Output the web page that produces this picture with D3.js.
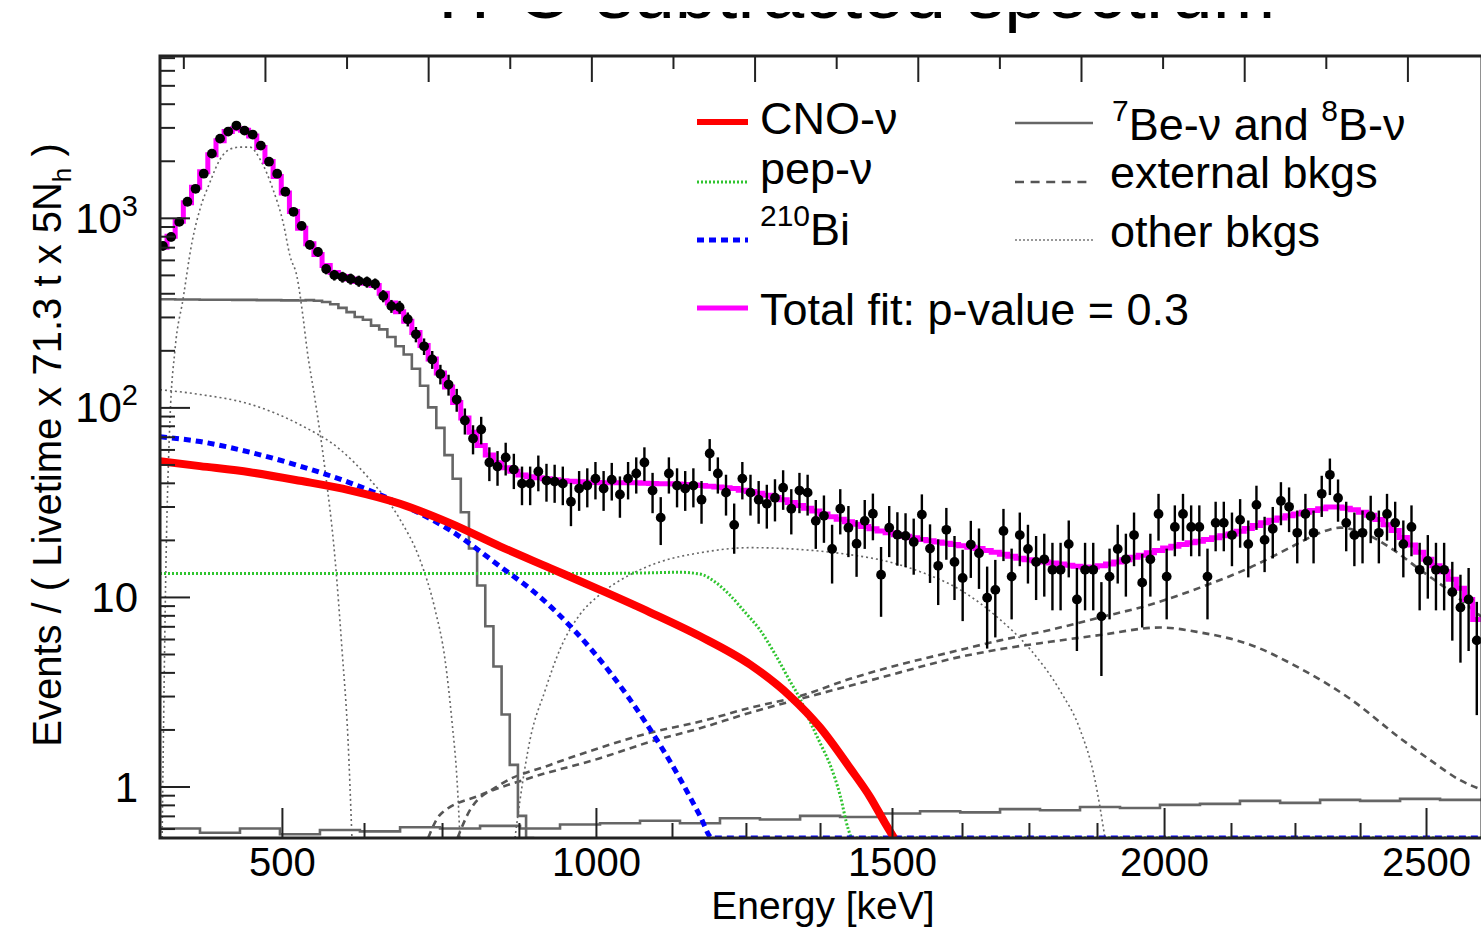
<!DOCTYPE html>
<html><head><meta charset="utf-8">
<script src="https://cdn.jsdelivr.net/npm/d3@7"></script>
<style>html,body{margin:0;padding:0;background:#fff;}svg{display:block;font-family:"Liberation Sans",Arial,Helvetica,sans-serif;}</style>
</head><body><svg id="c" width="1481" height="928"></svg>
<script>
// ---------------- data ----------------
const titleText = "TFC-subtracted spectrum";
const xTitle = "Energy [keV]";
const binLo = 135, binW = 5;           // Nh bins (5 Nh each)
// measured data points, one per bin
const dataCounts = [711,793,952,1216,1423,1710,2181,2618,2851,3068,2885,2749,2404,1978,1710,1373,1076,907,720,661,537,499,487,476,464,459,448,387,342,338,292,243,210,179,150,132,110,85.3,68.5,76.5,51.2,48.7,54.4,47.0,39.6,39.6,45.9,41.1,40.6,39.6,31.8,37.3,38.7,42.1,37.3,41.6,34.7,42.1,44.8,51.2,36.4,26.2,44.8,38.7,37.3,38.7,32.6,57.1,44.8,35.5,24.0,42.1,35.5,32.6,31.0,33.4,37.7,29.2,36.4,35.5,25.2,26.8,17.9,29.2,23.2,19.1,25.2,27.5,13.1,23.2,21.3,21.0,19.5,27.2,18.0,14.6,22.6,15.3,12.6,18.9,17.0,9.9,10.9,22.3,12.8,21.2,17.9,15.3,15.8,13.9,13.9,19.0,9.7,13.9,13.9,7.9,12.8,17.9,15.8,21.2,11.9,15.8,27.4,12.8,23.4,27.4,23.4,23.4,12.8,24.6,24.6,21.2,25.5,19.0,30.6,20.0,22.9,32.1,29.9,21.8,27.4,21.8,35.0,44.1,33.3,24.6,21.2,21.8,26.7,21.8,27.4,24.6,19.0,23.4,13.9,15.5,13.9,13.9,10.6,8.8,9.7,5.9];
const errVar = 2.1; // Poisson-like variance scale of the normalised counts
// total fit, one per bin
const totalFit = [700,800,960,1200,1450,1750,2150,2550,2850,2950,2900,2700,2350,1980,1650,1350,1080,880,730,640,560,515,490,475,462,452,440,400,355,320,285,248,212,180,152,128,106,88,74,63,56,51,48,46,44,43,42.5,42,41.5,41,40.8,40.5,40.3,40.2,40,40,40,40,40,39.8,39.7,39.6,39.5,39.4,39.2,39,38.7,38.4,38,37.7,37.3,36.6,36,35.2,34.4,33.5,32.6,31.5,30.4,29.4,28.4,27.4,26.5,25.7,24.9,24.2,23.5,22.9,22.3,21.8,21.3,20.9,20.5,20.1,19.8,19.5,19.2,18.9,18.6,18.3,18.0,17.6,17.2,16.8,16.4,16.0,15.7,15.5,15.3,15.1,14.9,14.7,14.5,14.4,14.4,14.6,14.9,15.3,15.7,16.2,16.6,17.1,17.6,18.1,18.5,18.9,19.3,19.7,20.1,20.5,21.0,21.5,22.2,23.0,23.8,24.6,25.4,26.1,26.8,27.4,28.0,28.6,29.2,29.8,29.8,29.4,28.8,28.0,27.0,25.6,24.0,22.4,20.6,18.8,17.2,15.8,14.6,13.6,12.4,11.1,9.7,7.6];
// 7Be-nu histogram (bins from first bin)
const be7Hist = [372,372,371,371,371,370,370,370,370,369,369,369,368,368,368,367,367,366,368,365,360,350,335,318,300,290,270,258,235,210,190,160,130,100,78,56,42,28,18,11.5,7,4.3,2.4,1.3,0.7,0.3];
// smooth components: [Nh, value]
const b8Curve = [[135.7,0.60],[160.2,0.57],[184.7,0.60],[209.2,0.56],[233.7,0.59],[258.2,0.58],[282.8,0.61],[307.3,0.60],[331.8,0.62],[356.3,0.60],[380.8,0.63],[405.3,0.64],[429.8,0.66],[454.3,0.64],[478.8,0.68],[503.3,0.67],[527.9,0.70],[552.4,0.69],[576.9,0.72],[601.4,0.74],[626,0.73],[650.4,0.76],[674.9,0.75],[699.4,0.78],[723.9,0.77],[748.4,0.80],[772.9,0.81],[797.4,0.84],[822,0.82],[846.5,0.85],[871,0.84],[895.5,0.86],[920,0.85],[945.7,0.87]];
const cnoCurve = [[135.7,52],[160.2,49],[190.8,45.5],[221.5,41],[252.1,36.5],[282.8,31],[313.4,24.5],[344,18.5],[374.7,14.2],[405.3,10.9],[435.9,8.3],[466.6,6.2],[497.2,4.4],[521.7,3.0],[540.1,2.05],[558.5,1.25],[570.8,0.88],[580,0.64],[585.5,0.5]];
const pepCurve = [[135.7,13.3],[200,13.3],[300,13.3],[400,13.3],[436,13.4],[454.3,13.5],[466.6,13.2],[475.8,12],[485,10.2],[494.2,8.3],[503.3,6.7],[512.5,5.0],[521.7,3.6],[527.9,2.9],[534,2.2],[540.1,1.7],[546.3,1.3],[552.4,0.9],[557.3,0.6],[559.7,0.45],[945.7,0.45]];
const bi210Curve = [[135.7,70],[160.2,66],[190.8,58],[221.5,49],[252.1,40],[282.8,31],[313.4,22.5],[344,14.5],[368.5,10],[390,6.6],[411.4,4.0],[432.9,2.2],[454.3,1.1],[466.6,0.7],[474,0.5],[945.7,0.5]];
const extBkg1 = [[318,0.45],[325.6,0.75],[344,1.02],[374.7,1.30],[405.3,1.60],[435.9,1.92],[466.6,2.2],[497.2,2.6],[527.9,3.0],[558.5,3.7],[589.1,4.4],[619.8,5.1],[650.4,5.9],[681,6.7],[711.7,7.8],[742.3,9.1],[772.9,11.2],[803.6,14.3],[828.1,18.2],[846.5,21.8],[858.7,23.2],[871,22.1],[889.4,18.2],[907.8,13.9],[926.2,10.7],[945.7,7.8]];
const extBkg2 = [[300,0.45],[307.3,0.71],[331.8,0.90],[362.4,1.11],[405.3,1.41],[435.9,1.72],[466.6,2.03],[497.2,2.45],[527.9,2.9],[558.5,3.4],[589.1,4.0],[619.8,4.7],[650.4,5.3],[681,5.8],[711.7,6.3],[748.4,6.9],[772.9,6.5],[803.6,5.6],[834.2,4.2],[864.9,2.9],[895.5,1.80],[913.9,1.38],[932.3,1.08],[945.7,0.96]];
const otherPo210 = [[137,0.5],[139.4,15.7],[141.8,86],[144.9,202],[149.8,372],[155.3,743],[160.2,1110],[166.3,1541],[172.5,2037],[178.6,2301],[184.7,2360],[190.8,2360],[197,2037],[204.9,1416],[211.1,948],[215.4,627],[219.6,491],[223.3,302],[225.8,202],[230.7,110],[236.8,47],[243,15.7],[247.2,5.3],[250.9,1.76],[253.3,0.5]];
const otherKr85 = [[135.7,124],[160.2,117],[190.8,104],[221.5,81],[246,60],[264.4,41.6],[282.8,25.6],[295,15.7],[304.2,8.6],[310.3,4.7],[314.6,2.2],[317.7,1.08],[319.5,0.5]];
const otherC11 = [[353.2,0.5],[356.3,0.85],[362.4,1.76],[371.6,3.2],[380.8,5.3],[393.1,8.1],[405.3,10.3],[423.7,13.1],[442,15.3],[466.6,17.1],[497.2,18.2],[527.9,17.8],[558.5,16.7],[576.9,15.7],[601.4,13.6],[626,10.9],[650.4,7.6],[668.8,5.3],[687.2,3.2],[699.4,2.0],[708.6,1.08],[714.7,0.5]];
// axes
const energyTickValues = [500,625,750,875,1000,1125,1250,1375,1500,1625,1750,1875,2000,2125,2250,2375,2500];
const energyTickNh    = [210.4,260.7,308.5,355.6,402.8,449.4,494.7,540.1,584.2,627.1,668.1,709.8,750.9,791.9,831.1,871.0,911.4];
const energyMajor = [500,1000,1500,2000,2500];
const yMajorTicks = [1,10,100,1000];
const yTickLabels = [{base:"1",exp:""},{base:"10",exp:""},{base:"10",exp:"2"},{base:"10",exp:"3"}];
const nhTopTicks = [150,200,250,300,350,400,450,500,550,600,650,700,750,800,850,900];
// legend
const legendLeft = ["CNO-ν","pep-ν","Bi","Total fit: p-value = 0.3"];
const legendRight = ["Be-ν and ","external bkgs","other bkgs"];

// ---------------- drawing ----------------
const W = 1481, H = 928;
const m = {l:160, t:56, r:1482, b:838};
const nhMin = 135.7, nhMax = 945.7;
const yMin = 0.535, yMax = 7140;
const x = d3.scaleLinear().domain([nhMin, nhMax]).range([m.l, m.r]);
const y = d3.scaleLog().domain([yMin, yMax]).range([m.b, m.t]);
const yc = v => y(Math.max(v, yMin));
const eScale = d3.scaleLinear().domain(energyTickValues).range(energyTickNh.map(n => x(n)));

const svg = d3.select("#c");
svg.append("rect").attr("width", W).attr("height", H).attr("fill", "#fff");

// title (clipped at top like the reference)
svg.append("text").attr("x", 850).attr("y", 18).attr("text-anchor", "middle")
  .attr("font-size", 75).attr("fill", "#000").text(titleText);
svg.append("rect").attr("x", 0).attr("y", 0).attr("width", W).attr("height", 12).attr("fill", "#fff");

svg.append("defs").append("clipPath").attr("id", "pc").append("rect")
  .attr("x", m.l).attr("y", m.t).attr("width", m.r - m.l).attr("height", m.b - m.t);
const g = svg.append("g").attr("clip-path", "url(#pc)");

const smooth = d3.line().x(d => x(d[0])).y(d => yc(d[1])).curve(d3.curveMonotoneX);
const stepLine = d3.line().x(d => x(d[0])).y(d => yc(d[1])).curve(d3.curveStepAfter);
function histPoints(vals, k0) {
  const p = vals.map((v, i) => [binLo + binW * (k0 + i), v]);
  p.push([binLo + binW * (k0 + vals.length), vals[vals.length - 1]]);
  return p;
}
function path(d, lineGen, stroke, width, dash) {
  const p = g.append("path").attr("d", lineGen(d)).attr("fill", "none")
    .attr("stroke", stroke).attr("stroke-width", width).attr("stroke-linejoin", "miter");
  if (dash) p.attr("stroke-dasharray", dash);
  return p;
}
const styles = {
  other: ["#666", 1.6, "2,3"],
  ext:   ["#555", 2.6, "7,5"],
  sun:   ["#666", 2.6, null],
  pep:   ["#2fc42f", 3, "2,2"],
  bi:    ["#0000ff", 5, "7,5"],
  cno:   ["#ff0000", 8, null],
  fit:   ["#ff00ff", 5, null]
};
[otherPo210, otherKr85, otherC11].forEach(c => path(c, smooth, ...styles.other));
[extBkg1, extBkg2].forEach(c => path(c, smooth, ...styles.ext));
path(b8Curve, stepLine, ...styles.sun);
path(histPoints(be7Hist, 0), stepLine, ...styles.sun);
path(pepCurve, smooth, ...styles.pep);
path(bi210Curve, smooth, ...styles.bi);
path(cnoCurve, smooth, ...styles.cno);
path(histPoints(totalFit, 0), stepLine, ...styles.fit);

// data points with error bars
const pts = dataCounts.map((v, k) => ({nh: binLo + binW * (k + 0.5), v, e: Math.sqrt(errVar * v)}));
g.selectAll("line.err").data(pts).join("line").attr("class", "err")
  .attr("x1", d => x(d.nh)).attr("x2", d => x(d.nh))
  .attr("y1", d => yc(d.v + d.e)).attr("y2", d => yc(d.v - d.e))
  .attr("stroke", "#000").attr("stroke-width", 2.4);
g.selectAll("circle.pt").data(pts).join("circle").attr("class", "pt")
  .attr("cx", d => x(d.nh)).attr("cy", d => y(d.v)).attr("r", 4.9).attr("fill", "#000");

// axes ticks (ROOT style: inside)
function axisG(axis, tx, ty) {
  const a = svg.append("g").attr("transform", `translate(${tx},${ty})`).call(axis);
  a.select(".domain").remove();
  a.selectAll("line").attr("stroke", "#222").attr("stroke-width", 2);
  return a;
}
const yMinor = [];
[0.1, 1, 10, 100, 1000].forEach(dec => { for (let i = 2; i <= 9; i++) { const v = dec * i; if (v > yMin && v < yMax) yMinor.push(v); } });
axisG(d3.axisLeft(y).tickValues(yMinor).tickSize(-15).tickFormat(""), m.l, 0);
axisG(d3.axisLeft(y).tickValues(yMajorTicks).tickSize(-30).tickFormat(""), m.l, 0);
axisG(d3.axisTop(x).tickValues(nhTopTicks.filter(v => v % 100 !== 0)).tickSize(-13).tickFormat(""), 0, m.t);
axisG(d3.axisTop(x).tickValues(nhTopTicks.filter(v => v % 100 === 0)).tickSize(-26).tickFormat(""), 0, m.t);
axisG(d3.axisBottom(eScale).tickValues(energyTickValues.filter(v => !energyMajor.includes(v))).tickSize(-15).tickFormat(""), 0, m.b);
const bx = axisG(d3.axisBottom(eScale).tickValues(energyMajor).tickSize(-30).tickPadding(10).tickFormat(d3.format("d")), 0, m.b);
bx.selectAll("text").attr("font-size", 40).attr("font-family", "'Liberation Sans',Arial,sans-serif").attr("fill", "#000");

// frame
svg.append("rect").attr("x", m.l).attr("y", m.t).attr("width", m.r - m.l).attr("height", m.b - m.t)
  .attr("fill", "none").attr("stroke", "#222").attr("stroke-width", 3);

// y tick labels
yMajorTicks.forEach((v, i) => {
  const t = svg.append("text").attr("x", 138).attr("y", y(v) + 15).attr("text-anchor", "end")
    .attr("font-size", 42).attr("fill", "#000");
  t.append("tspan").text(yTickLabels[i].base);
  if (yTickLabels[i].exp) t.append("tspan").attr("font-size", 29).attr("dy", -17).text(yTickLabels[i].exp);
});

// axis titles
svg.append("text").attr("x", 823).attr("y", 919).attr("text-anchor", "middle").attr("font-size", 39).text(xTitle);
const yt = svg.append("text").attr("transform", "translate(61,445) rotate(-90)").attr("text-anchor", "middle").attr("font-size", 40);
yt.append("tspan").text("Events / ( Livetime x 71.3 t x 5N");
yt.append("tspan").attr("font-size", 26).attr("dy", 10).text("h");
yt.append("tspan").attr("dy", -10).text(" )");

// legend
const L = svg.append("g");
function legLine(x1, x2, yy, st) {
  const l = L.append("line").attr("x1", x1).attr("x2", x2).attr("y1", yy).attr("y2", yy)
    .attr("stroke", st[0]).attr("stroke-width", st[1]);
  if (st[2]) l.attr("stroke-dasharray", st[2]);
}
legLine(697, 748, 122, [styles.cno[0], 6, null]);
legLine(697, 748, 182, styles.pep);
legLine(697, 748, 240, styles.bi);
legLine(697, 748, 308, styles.fit);
legLine(1015, 1093, 123, styles.sun);
legLine(1015, 1093, 182, ["#555", 2.6, "9,6.6"]);
legLine(1015, 1093, 240, ["#777", 1.6, "2,2"]);
const fs = 45;
L.append("text").attr("x", 760).attr("y", 134).attr("font-size", fs).text(legendLeft[0]);
L.append("text").attr("x", 760).attr("y", 184).attr("font-size", fs).text(legendLeft[1]);
const biT = L.append("text").attr("x", 760).attr("y", 245).attr("font-size", fs);
biT.append("tspan").attr("font-size", 30).attr("dy", -19).text("210");
biT.append("tspan").attr("dy", 19).text(legendLeft[2]);
L.append("text").attr("x", 760).attr("y", 325).attr("font-size", fs).text(legendLeft[3]);
const beT = L.append("text").attr("x", 1112).attr("y", 140).attr("font-size", fs);
beT.append("tspan").attr("font-size", 30).attr("dy", -19).text("7");
beT.append("tspan").attr("dy", 19).text(legendRight[0]);
beT.append("tspan").attr("font-size", 30).attr("dy", -19).text("8");
beT.append("tspan").attr("dy", 19).text("B-ν");
L.append("text").attr("x", 1110).attr("y", 188).attr("font-size", fs).text(legendRight[1]);
L.append("text").attr("x", 1110).attr("y", 247).attr("font-size", fs).text(legendRight[2]);
</script></body></html>
